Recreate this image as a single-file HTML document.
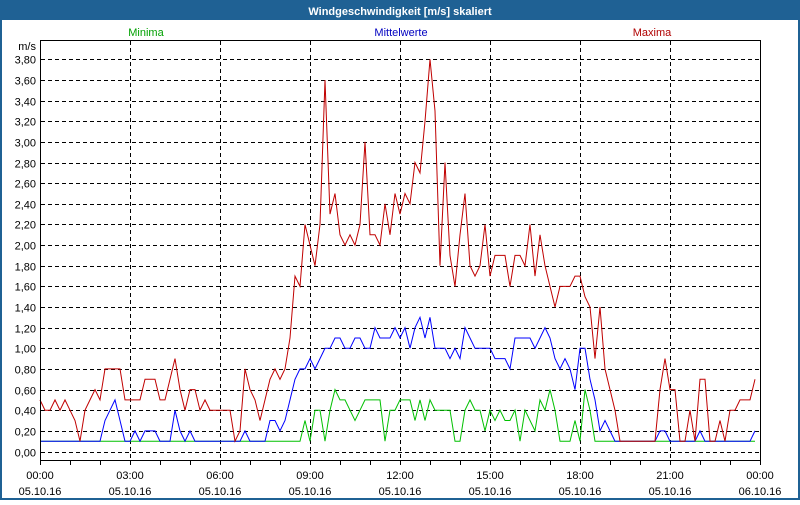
<!DOCTYPE html>
<html><head><meta charset="utf-8">
<style>
html,body{margin:0;padding:0;background:#fff;}
body{width:800px;height:500px;overflow:hidden;font-family:"Liberation Sans","DejaVu Sans",sans-serif;}
svg text{font-family:"Liberation Sans","DejaVu Sans",sans-serif;font-size:11px;}
</style></head>
<body>
<svg id="s" width="800" height="500" xmlns="http://www.w3.org/2000/svg">
<rect x="0" y="0" width="800" height="500" fill="#1f6194"/>
<rect x="2" y="20" width="796" height="478" fill="#fff"/>
<text x="400" y="15" text-anchor="middle" fill="#fff" font-weight="bold" style="font-size:11px">Windgeschwindigkeit [m/s] skaliert</text>
<text x="146" y="36" text-anchor="middle" fill="#00a000">Minima</text>
<text x="401" y="36" text-anchor="middle" fill="#0000c0">Mittelwerte</text>
<text x="652" y="36" text-anchor="middle" fill="#b00000">Maxima</text>
<text x="36" y="50" text-anchor="end" fill="#000">m/s</text>
<g id="grid" stroke="#000" stroke-width="1" stroke-dasharray="4,3" fill="none"></g>
<g id="lab" fill="#000"></g>
<polyline id="g" fill="none" stroke="#00c000" stroke-width="1"/>
<polyline id="b" fill="none" stroke="#0000ff" stroke-width="1"/>
<polyline id="r" fill="none" stroke="#c00000" stroke-width="1"/>
<line x1="40.5" y1="40" x2="40.5" y2="460" stroke="#000"/>
<line x1="760.5" y1="40" x2="760.5" y2="460" stroke="#000"/>
<line x1="40" y1="40.5" x2="761" y2="40.5" stroke="#000"/>
<line x1="40" y1="460.5" x2="761" y2="460.5" stroke="#000"/>
<g id="ticks" stroke="#000"></g>
</svg>
<script>
var NS="http://www.w3.org/2000/svg";
function el(t,a,p,txt){var e=document.createElementNS(NS,t);for(var k in a)e.setAttribute(k,a[k]);if(txt)e.textContent=txt;document.getElementById(p).appendChild(e);}
function Y(v){return 451.5-v*103.2;}
for(var i=0;i<=19;i++){var v=i*0.2,y=Math.round(Y(v))+0.5;
 el('line',{x1:41,y1:y,x2:760,y2:y},'grid');
 el('text',{x:36,y:y+4,'text-anchor':'end'},'lab',v.toFixed(2).replace('.',','));}
for(var h=3;h<24;h+=3){var x=40+h*30+0.5;el('line',{x1:x,y1:41,x2:x,y2:460},'grid');}
for(var h=0;h<=24;h++){var x=40+h*30+0.5;el('line',{x1:x,y1:460,x2:x,y2:465},'ticks');}
for(var h=0;h<=24;h+=3){var x=40+h*30;
 el('text',{x:x,y:479,'text-anchor':'middle'},'lab',(h==24?'00':('0'+h).slice(-2))+':00');
 el('text',{x:x,y:495,'text-anchor':'middle'},'lab',h==24?'06.10.16':'05.10.16');}
function fill(m,from,to,v){for(var x=from;x<=to;x+=5)m[x]=v;}
var R={},B={},G={};
var rv=[.5,.4,.4,.5,.4,.5,.4,.3,.1,.4,.5,.6,.5,.8,.8,.8,.8,.5,.5,.5,.5,.7,.7,.7,.5,.5,.7,.9,.6,.4,.6,.6,.4,.5,.4,.4,.4,.4,.4,.1,.2,.8,.6,.5,.3,.5,.7,.8,.7,.8,1.1,1.7,1.6,2.2,2.0,1.8,2.2,3.6,2.3,2.5,2.1,2.0,2.1,2.0,2.2,3.0,2.1,2.1,2.0,2.4,2.1,2.5,2.3,2.5,2.4,2.8,2.7,3.2,3.8,3.3,1.8,2.8,1.9,1.6,2.1,2.5,1.8,1.7,1.8,2.2,1.7,1.9,1.9,1.9,1.6,1.9,1.9,1.8,2.2,1.7,2.1,1.8,1.6,1.4,1.6,1.6,1.6,1.7,1.7,1.5,1.4,0.9,1.4,0.8,0.6,0.4,0.1];
for(var i=0;i<rv.length;i++)R[40+i*5]=rv[i];
fill(R,40+rv.length*5,655,.1);
var rt=[.6,.9,.6,.6,.1,.1,.4,.1,.7,.7,.1,.1,.3,.1,.4,.4,.5,.5,.5,.7];
for(var i=0;i<rt.length;i++)R[660+i*5]=rt[i];
fill(B,40,100,.1);
var bv=[.3,.4,.5,.3,.1,.1,.2,.1,.2,.2,.2,.1,.1,.1,.4,.2,.1,.2,.1];
for(var i=0;i<bv.length;i++)B[105+i*5]=bv[i];
fill(B,200,240,.1);B[245]=.2;fill(B,250,265,.1);
var bm=[.3,.3,.2,.3,.5,.7,.8,.8,.9,.8,.9,1,1,1.1,1.1,1,1,1.1,1.1,1,1,1.2,1.1,1.1,1.1,1.2,1.1,1.2,1,1.2,1.3,1.1,1.3,1,1,1,.9,1,.9,1.2,1.1,1,1,1,1,.9,.9,.9,.8,1.1,1.1,1.1,1.1,1,1.1,1.2,1.1,.9,.8,.9,.8,.6,1,1,.7,.5,.2,.3,.2,.1];
for(var i=0;i<bm.length;i++)B[270+i*5]=bm[i];
fill(B,620,655,.1);B[660]=.2;B[665]=.2;fill(B,670,695,.1);B[700]=.2;fill(B,705,750,.1);B[755]=.2;
fill(G,40,300,.1);
var gv=[.3,.1,.4,.4,.1,.4,.6,.5,.5,.4,.3,.4,.5,.5,.5,.5,.1,.4,.4,.5,.5,.5,.3,.5,.3,.5,.4,.4,.4,.4,.1,.1,.4,.5,.4,.4,.2,.4,.3,.4,.3,.3,.4,.1,.4,.3,.2,.5,.4,.6,.4,.1,.1,.1,.3,.1,.6,.4,.1];
for(var i=0;i<gv.length;i++)G[305+i*5]=gv[i];
fill(G,600,755,.1);
function pts(m){var a=[];for(var x=40;x<=755;x+=5)if(m[x]!==undefined)a.push(x+','+Y(m[x]).toFixed(1));return a.join(' ');}
document.getElementById('r').setAttribute('points',pts(R));
document.getElementById('b').setAttribute('points',pts(B));
document.getElementById('g').setAttribute('points',pts(G));
</script>
</body></html>
